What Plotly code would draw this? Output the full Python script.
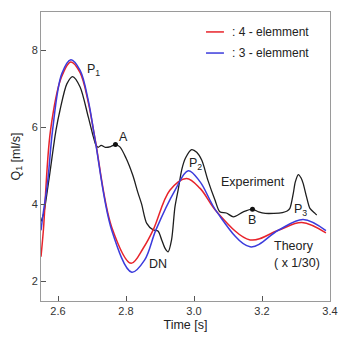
import plotly.graph_objects as go

# Experiment (black)
exp_t = [2.550, 2.558, 2.573, 2.594, 2.606, 2.626, 2.643, 2.665, 2.689, 2.704, 2.711,
         2.718, 2.727, 2.739, 2.755, 2.769, 2.782, 2.800, 2.820, 2.835, 2.846, 2.861,
         2.880, 2.894, 2.905, 2.915, 2.924, 2.934, 2.944, 2.954, 2.964, 2.975, 2.993,
         3.008, 3.023, 3.041, 3.062, 3.076, 3.095, 3.116, 3.145, 3.172, 3.190, 3.210,
         3.235, 3.260, 3.274, 3.282, 3.292, 3.298, 3.307, 3.315, 3.321, 3.331, 3.341,
         3.356, 3.361]
exp_q = [3.55, 3.76, 4.62, 5.92, 6.45, 7.13, 7.32, 7.05, 6.27, 5.75, 5.55,
         5.48, 5.53, 5.48, 5.50, 5.55, 5.49, 5.20, 4.75, 4.30, 4.00, 3.50,
         3.33, 3.30, 3.07, 2.85, 2.76, 3.07, 3.93, 4.40, 4.90, 5.20, 5.42,
         5.35, 5.14, 4.62, 4.10, 3.80, 3.77, 3.67, 3.80, 3.87, 3.80, 3.76,
         3.76, 3.78, 3.82, 3.89, 4.28, 4.58, 4.77, 4.68, 4.54, 4.19, 3.89,
         3.76, 3.72]

# Theory, 4-element (red)
red_t = [2.550, 2.557, 2.578, 2.610, 2.638, 2.665, 2.689, 2.709, 2.758, 2.815, 2.851,
         2.880, 2.929, 2.978, 3.018, 3.067, 3.165, 3.248, 3.317, 3.388]
red_q = [2.63, 3.32, 5.92, 7.30, 7.70, 7.42, 6.65, 5.70, 3.40, 2.46, 2.86,
         3.33, 4.36, 4.67, 4.41, 3.80, 3.07, 3.32, 3.52, 3.25]

# Theory, 3-element (blue)
blue_t = [2.550, 2.555, 2.570, 2.584, 2.611, 2.638, 2.665, 2.689, 2.709, 2.758, 2.817,
          2.855, 2.888, 2.944, 2.983, 3.018, 3.067, 3.165, 3.248, 3.321, 3.388]
blue_q = [3.32, 3.67, 4.62, 5.92, 7.39, 7.76, 7.48, 6.70, 5.68, 3.32, 2.23,
          2.55, 3.33, 4.36, 4.87, 4.58, 3.80, 2.89, 3.32, 3.60, 3.31]

# Marked points A and B
pt_t = [2.769, 3.172]
pt_q = [5.55, 3.87]

x_ticks = [2.6, 2.8, 3.0, 3.2, 3.4]
x_ticklabels = ["2.6", "2.8", "3.0", "3.2", "3.4"]
y_ticks = [2, 4, 6, 8]

RED = "#e8232b"
BLUE = "#3b3bdc"
FONT = "Liberation Sans, Arial, sans-serif"

fig = go.Figure()
fig.add_trace(go.Scatter(x=exp_t, y=exp_q, mode="lines",
                         line=dict(color="#1e1e1e", width=1.3, shape="spline", smoothing=0.8),
                         showlegend=False, hoverinfo="skip"))
fig.add_trace(go.Scatter(x=red_t, y=red_q, mode="lines",
                         line=dict(color=RED, width=1.5, shape="spline", smoothing=1.0),
                         showlegend=False, hoverinfo="skip"))
fig.add_trace(go.Scatter(x=blue_t, y=blue_q, mode="lines",
                         line=dict(color=BLUE, width=1.5, shape="spline", smoothing=1.0),
                         showlegend=False, hoverinfo="skip"))
fig.add_trace(go.Scatter(x=pt_t, y=pt_q, mode="markers",
                         marker=dict(color="#111", size=5),
                         showlegend=False, hoverinfo="skip"))

ann = [
    ("P<sub>1</sub>", 2.703, 7.5),
    ("A", 2.794, 5.74),
    ("DN", 2.894, 2.44),
    ("P<sub>2</sub>", 3.003, 5.04),
    ("Experiment", 3.174, 4.57),
    ("B", 3.171, 3.58),
    ("P<sub>3</sub>", 3.312, 3.86),
    ("Theory", 3.294, 2.91),
    ("( x 1/30)", 3.303, 2.47),
]
for txt, x, y in ann:
    fig.add_annotation(x=x, y=y, text=txt, showarrow=False,
                       font=dict(family=FONT, size=12.5, color="#222"))

# legend (drawn manually)
for i, (name, col) in enumerate([(": 4 - elemment", RED), (": 3 - elemment", BLUE)]):
    yy = 0.931 - i * 0.073
    fig.add_shape(type="line", xref="paper", yref="paper",
                  x0=0.571, x1=0.633, y0=yy, y1=yy, line=dict(color=col, width=1.5))
    fig.add_annotation(xref="paper", yref="paper", x=0.655, y=yy, text=name,
                       showarrow=False, xanchor="left", yanchor="middle",
                       font=dict(family=FONT, size=12, color="#222"))

axis_common = dict(showline=True, linecolor="#9a9a9a", linewidth=1, mirror=True,
                   ticks="inside", ticklen=5, tickcolor="#555", showgrid=False,
                   zeroline=False, automargin=False,
                   tickfont=dict(family=FONT, size=11, color="#333"))

fig.update_layout(
    width=343, height=339,
    margin=dict(l=41, r=13, t=12, b=38),
    plot_bgcolor="white", paper_bgcolor="white",
    xaxis=dict(range=[2.55, 3.4], tickvals=x_ticks, ticktext=x_ticklabels,
               title=dict(text="Time [s]", font=dict(family=FONT, size=12.5, color="#222"),
                          standoff=4),
               **axis_common),
    yaxis=dict(range=[1.48, 9.0], tickvals=y_ticks,
               title=dict(text="Q<sub>1</sub> [ml/s]", font=dict(family=FONT, size=12.5, color="#222"),
                          standoff=8),
               **axis_common),
)

fig.write_html("out.html")
